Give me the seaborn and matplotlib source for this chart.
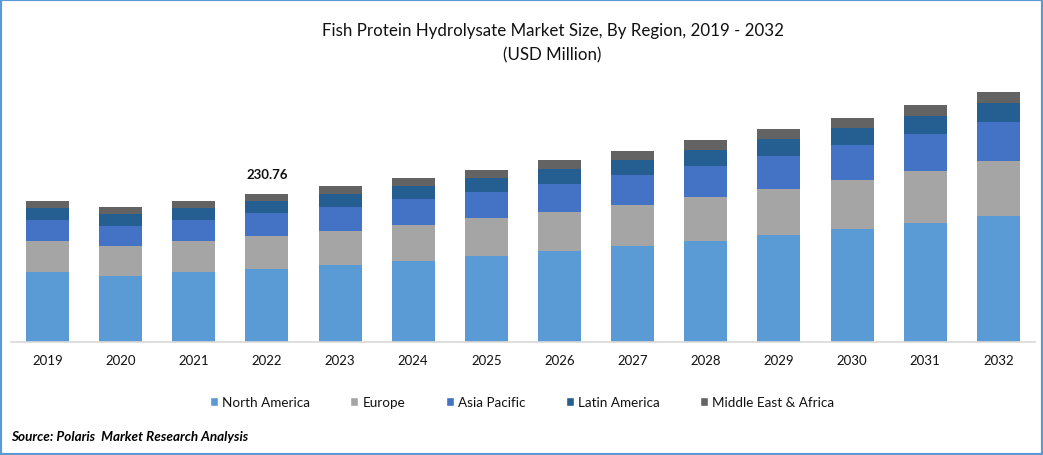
import matplotlib
matplotlib.use("Agg")
import matplotlib.pyplot as plt
from matplotlib.patches import Patch, Rectangle
import numpy as np
import pandas as pd
import seaborn as sns

years = [str(y) for y in range(2019, 2033)]
north_america = [109.1,102.9,109.1,113.8,120.0,126.3,134.1,141.9,149.7,157.5,166.8,176.2,185.5,196.4]
europe = [48.3,46.8,48.3,51.4,53.0,56.1,59.2,60.8,63.9,68.6,71.7,76.4,81.1,85.7]
asia_pacific = [32.7,31.2,32.7,35.9,37.4,40.5,40.5,43.7,46.8,48.3,51.4,54.6,57.7,60.8]
latin_america = [18.7,18.7,18.7,18.7,20.3,20.3,21.8,23.4,23.4,24.9,26.5,26.5,28.1,29.6]
middle_east_africa = [10.9,10.9,10.9,10.9,12.5,12.5,12.5,14.0,14.0,15.6,15.6,15.6,17.1,17.1]

regions = ["North America", "Europe", "Asia Pacific", "Latin America", "Middle East & Africa"]
colors = ["#5B9BD5", "#A5A5A5", "#4472C4", "#255E91", "#636363"]
series = [north_america, europe, asia_pacific, latin_america, middle_east_africa]

sns.set_theme(style="white")
plt.rcParams["font.family"] = ["Lato", "DejaVu Sans"]

W, H = 1043, 456
fig = plt.figure(figsize=(W / 100, H / 100), dpi=100, facecolor="white")
ax = fig.add_axes([10.9 / W, 1 - 343 / H, 1024 / W, 270 / H])

cum = np.cumsum(np.array(series), axis=0)
for i in range(4, -1, -1):
    df = pd.DataFrame({"year": years, "value": cum[i]})
    sns.barplot(data=df, x="year", y="value", color=colors[i], width=0.588,
                saturation=1, ax=ax, linewidth=0)

ax.set_xlim(-0.5, 13.5)
ax.set_ylim(0, 421)
ax.set_xlabel("")
ax.set_ylabel("")
ax.set_yticks([])
for s in ["top", "left", "right"]:
    ax.spines[s].set_visible(False)
ax.spines["bottom"].set_color("#D9D9D9")
ax.spines["bottom"].set_linewidth(1.2)
ax.tick_params(axis="x", length=0, pad=8.7, labelsize=9.5, labelcolor="#111111")

ax.text(3, cum[4][3] + 31, "230.76", ha="center", va="center", fontsize=9.5,
        fontweight="bold", color="#111111")

fig.text(552.5 / W, 1 - 31 / H, "Fish Protein Hydrolysate Market Size, By Region, 2019 - 2032",
         ha="center", va="center", fontsize=12.2, color="#111111")
fig.text(552.5 / W, 1 - 55 / H, "(USD Million)", ha="center", va="center", fontsize=12.2, color="#111111")

handles = [Patch(facecolor=c, label=r) for c, r in zip(colors, regions)]
fig.legend(handles=handles, loc="center", bbox_to_anchor=(522 / W, 1 - 403.5 / H), ncol=5,
           frameon=False, fontsize=9.7, handlelength=0.6, handleheight=0.6,
           handletextpad=0.3, columnspacing=3.0, labelcolor="#111111")

fig.text(11 / W, 1 - 437.5 / H, "Source: Polaris  Market Research Analysis", ha="left", va="center",
         fontsize=9.7, fontweight="bold", fontstyle="italic", color="black")

fig.add_artist(Rectangle((0, 0), 1, 1, transform=fig.transFigure, fill=False,
                         edgecolor="#5B9BD5", linewidth=3))

fig.savefig("out.png", dpi=100, facecolor="white")
